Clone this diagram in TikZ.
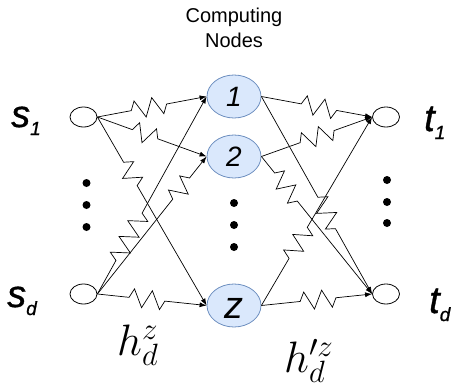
\RequirePackage{fix-cm}
\documentclass[tikz,border=0pt]{standalone}
\usepackage{fontspec}
\setmainfont{Liberation Sans}
\newfontfamily\labfont{Liberation Sans}[FakeBold=0.9]
\usetikzlibrary{decorations.pathmorphing,calc,arrows.meta,shapes.geometric}
\definecolor{nodefill}{HTML}{DAE8FC}
\definecolor{nodeline}{HTML}{6C8EBF}
\newcommand\zedge[4]{\draw[edge] (#1.east) -- ($(#1.east)!#3!(#2.west)$) decorate[zz] {-- ($(#1.east)!#4!(#2.west)$)} -- (#2.west);}
\newcommand\sublab[1]{\raisebox{-8pt}{\fontsize{19}{20}\selectfont\itshape #1}}
\begin{document}
\begin{tikzpicture}[x=1pt,y=-1pt,
  src/.style={ellipse,draw,line width=0.8pt,minimum width=27pt,minimum height=20pt,inner sep=0},
  comp/.style={ellipse,draw=nodeline,fill=nodefill,line width=0.8pt,minimum width=54pt,minimum height=43pt,inner sep=0},
  edge/.style={line width=0.7pt,-{Latex[length=7pt,width=5pt]}},
  zz/.style={decoration={zigzag,segment length=18pt,amplitude=9pt}},
  dot/.style={circle,fill,inner sep=0,minimum size=8pt},
  lab/.style={font=\labfont\fontsize{38}{42}\selectfont\itshape,anchor=base west,inner sep=0},
  num/.style={font=\fontsize{28}{30}\selectfont\itshape,inner sep=0},
  mlab/.style={anchor=base west,inner sep=0,font=\fontsize{44}{48}\selectfont}]
\useasboundingbox (0,0) rectangle (461,386);
% title
\node[font=\fontsize{20}{25}\selectfont,align=center,anchor=north] (title) at (234,4) {Computing\\Nodes};
% source/target circles
\node[src] (s1) at (83.5,117) {};
\node[src] (sd) at (83.5,294) {};
\node[src] (t1) at (386,117) {};
\node[src] (td) at (386,294) {};
% computing nodes
\node[comp] (n1) at (234,96.5) {};
\node[comp] (n2) at (234,156.5) {};
\node[comp] (nz) at (234,305.5) {};
\node[num] (l1) at (n1) {1};
\node[num] (l2) at (n2) {2};
\node[num,font=\fontsize{38}{40}\selectfont\itshape] (lz) at ([yshift=-3pt]nz.center) {z};
% labels
\node[lab] (ls1) at (11,127) {s\sublab{1}};
\node[lab] (lsd) at (7,307) {s\sublab{d}};
\node[lab] (lt1) at (424,131) {t\sublab{1}};
\node[lab] (ltd) at (429,313) {t\sublab{d}};
% dots
\foreach \i/\x/\y in {a/86.5/183,b/86.5/205,c/86.5/227,d/234/203,e/234/225,f/234/247,g/387/180,h/387/202,i/387/223}
  \node[dot] (dot\i) at (\x,\y) {};
% edges
\zedge{s1}{n1}{0.31}{0.64}
\zedge{s1}{n2}{0.32}{0.61}
\zedge{s1}{nz}{0.24}{0.40}
\zedge{sd}{n1}{0.17}{0.43}
\zedge{sd}{n2}{0.69}{0.86}
\zedge{sd}{nz}{0.29}{0.63}
\zedge{n1}{t1}{0.36}{0.69}
\zedge{n2}{t1}{0.35}{0.70}
\zedge{n1}{td}{0.51}{0.69}
\zedge{n2}{td}{0.12}{0.37}
\zedge{nz}{t1}{0.25}{0.42}
\zedge{nz}{td}{0.35}{0.68}
% math labels
\node[mlab] (h1) at (117,355) {$h_d^z$};
\node[mlab] (h2) at (284,372) {$h'^z_d$};
\end{tikzpicture}
\end{document}
